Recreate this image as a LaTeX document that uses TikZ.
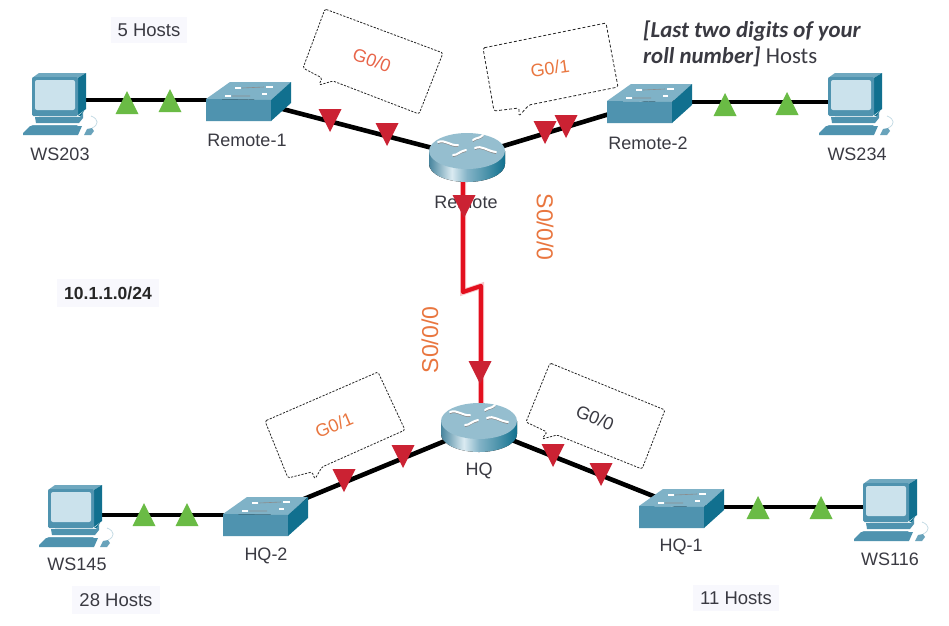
\documentclass[tikz,border=0pt]{standalone}
\usepackage{fontspec}
\setmainfont{Liberation Sans}
\newfontfamily\calfont{Carlito}
\definecolor{inktext}{HTML}{3A3A42}
\definecolor{pcfront}{HTML}{4F93AF}
\definecolor{pcside}{HTML}{11708F}
\definecolor{pctop}{HTML}{6FA8BF}
\definecolor{pcscreen}{HTML}{CBE2EC}
\definecolor{swtop}{HTML}{7FB2C7}
\definecolor{trigreen}{HTML}{6ABB45}
\definecolor{trired}{HTML}{CB2233}
\definecolor{wirered}{HTML}{E30F1E}
\definecolor{portorange}{HTML}{E9763F}
\definecolor{portred}{HTML}{E8654A}
\definecolor{paperblue}{HTML}{F8F8FD}
\pgfdeclarehorizontalshading{routerside}{100bp}{color(0bp)=(pcfront); color(25bp)=(pcfront!90!black); color(40bp)=(pcscreen!70!white); color(50bp)=(pcfront!70!white); color(65bp)=(pcside!80!white); color(75bp)=(pcside); color(100bp)=(pcside)}
\tikzset{
  devnode/.style={inner sep=0pt,minimum size=0pt},
  devlabel/.style={inner sep=0pt,text=inktext,font=\fontsize{18}{20}\selectfont},
  hostlabel/.style={devlabel,fill=paperblue,inner xsep=7pt,inner ysep=7pt},
  porttext/.style={inner sep=0pt,font=\fontsize{18}{20}\selectfont},
  serialtext/.style={inner sep=0pt,text=portorange,font=\fontsize{23}{25}\selectfont},
  wire/.style={line width=4.6pt,black},
  serialwire/.style={line width=4.2pt,wirered,line join=round,preaction={draw=wirered!25,line width=6pt}},
  callout/.style={draw=black!85,line width=0.8pt,fill=white,dash pattern=on 2.2pt off 1.4pt,rounded corners=1.5pt},
  pcicon/.pic={
    \begin{scope}[shift={(-37,-28)}]
      \fill[pctop] (9,5) -- (16,0) -- (63,0) -- (55,5) -- cycle;
      \fill[pcside] (55,5) -- (63,0) -- (63,36) -- (55,42) -- cycle;
      \fill[pcfront,rounded corners=1.5pt] (9,4) rectangle (55,43);
      \fill[pcscreen,rounded corners=2pt] (12,7) rectangle (52,37);
      \fill[pcside] (16,43) -- (58,43) -- (61,38) -- (55,43) -- cycle;
      \fill[pcfront] (12,44) -- (57,44) -- (60,40) -- (60,45) -- (56,50) -- (13,50) -- cycle;
      \fill[pcfront!85!white] (8,52) -- (55,52) -- (52,54) -- (12,54) -- cycle;
      \fill[pcfront] (0,60) -- (7,53) -- (59,53) -- (55,62) -- (0,62) -- cycle;
      \fill[pcfront!85!white] (61,62) -- (64,56) -- (69,55) -- (71,58) -- (68,62) -- cycle;
      \draw[pcfront!35!white,line width=0.7pt] (69,55) .. controls (76,52) and (76,46) .. (68,43);
    \end{scope}},
  switchicon/.pic={
    \begin{scope}[shift={(-42,-18)}]
      \fill[swtop] (24,0) -- (85,0) -- (65,18) -- (0,17) -- cycle;
      \fill[pcfront] (0,17) -- (65,18) -- (65,39) -- (0,39) -- cycle;
      \fill[pcside] (65,18) -- (85,0) -- (85,21) -- (65,39) -- cycle;
      \draw[white,line width=1.2pt] (29,6) -- (35,6) (60,5) -- (67,5) (19,14) -- (25,14) (56,12) -- (61,12);
      \draw[black!45,line width=0.6pt] (36,6) -- (58,5) (26,14) -- (44,14);
    \end{scope}},
  routericon/.pic={
    \fill[shading=routerside] (-38,-6) -- (-38,7) arc[start angle=180,end angle=0,x radius=38,y radius=18] -- (38,-6) -- cycle;
    \fill[pcfront!60!white] (0,-6) ellipse[x radius=38,y radius=18];
    \draw[black!45,line width=1pt] (-29,-13.5) .. controls (-22,-17) and (-17,-10) .. (-9,-10.5)
      (6,-15.5) .. controls (10,-19) and (12,-17) .. (16,-20.5)
      (8,-7.5) .. controls (15,-11) and (20,-5) .. (29,-3.5)
      (-14,-.5) .. controls (-9,-1) and (-9,-4) .. (-1,-5.5);
    \draw[white,line width=2pt,line cap=round] (-29,-15) .. controls (-22,-18) and (-17,-11) .. (-9,-12)
      (6,-17) .. controls (10,-20) and (12,-18) .. (16,-22)
      (8,-9) .. controls (15,-12) and (20,-6) .. (29,-5)
      (-14,-2) .. controls (-9,-2) and (-9,-5) .. (-1,-7);
  },
  greentri/.pic={\fill[trigreen] (0,0) -- (-11.5,23) -- (11.5,23) -- cycle;},
  redtri/.pic={\fill[trired] (0,0) -- (-11.5,-23) -- (11.5,-23) -- cycle;}
}
\begin{document}
\begin{tikzpicture}[x=1pt,y=-1pt]
\useasboundingbox[fill=white] (0,0) rectangle (949,625);

% device anchors
\node[devnode] (WS203) at (60,101) {};
\node[devnode] (R1) at (248,100) {};
\node[devnode] (Remote) at (467,157) {};
\node[devnode] (R2) at (649,102) {};
\node[devnode] (WS234) at (856,101) {};
\node[devnode] (WS145) at (76,513) {};
\node[devnode] (H2) at (265,515) {};
\node[devnode] (HQ) at (479,427) {};
\node[devnode] (H1) at (681,507) {};
\node[devnode] (WS116) at (891,507) {};
\coordinate (serA) at (463,292);
\coordinate (serB) at (481,286);

% labels
\node[hostlabel,font=\fontsize{18.5}{20}\selectfont] (h5) at (149,30) {5 Hosts};
\node[hostlabel,font=\fontsize{18.5}{20}\selectfont] (h28) at (116,600) {28 Hosts};
\node[hostlabel,font=\fontsize{18.5}{20}\selectfont] (h11) at (736,598) {11 Hosts};
\node[hostlabel,font=\fontsize{17.5}{20}\selectfont\bfseries,text=black!85] (net) at (108,293) {10.1.1.0/24};
\node[devlabel] (lWS203) at (60,154) {WS203};
\node[devlabel] (lR1) at (247,140) {Remote-1};
\node[devlabel] (lRemote) at (466,202) {Remote};
\node[devlabel] (lR2) at (648,143) {Remote-2};
\node[devlabel] (lWS234) at (857,154) {WS234};
\node[devlabel] (lWS145) at (77,564) {WS145};
\node[devlabel] (lH2) at (266,556) {HQ-2};
\node[devlabel] (lHQ) at (479,471) {HQ};
\node[devlabel] (lH1) at (681,547) {HQ-1};
\node[devlabel] (lWS116) at (890,559) {WS116};
\node[anchor=west,align=left,inner sep=0pt,text=inktext,font=\calfont\fontsize{22.8}{26}\selectfont] (roll) at (643,44)
  {\textbf{\textit{[Last two digits of your}}\\\textbf{\textit{roll number]}} Hosts};
\node[serialtext,rotate=-90] (s1) at (545,227) {S0/0/0};
\node[serialtext,rotate=90] (s2) at (430,340) {S0/0/0};

% call-outs
\draw[callout] (325,9) -- (443,53) -- (419,114) -- (333,81) -- (319,85) -- (322,78) -- (303,68) -- cycle;
\node[porttext,text=portred,rotate=-20] (c1) at (372,60) {G0/0};
\draw[callout,dash pattern=on 3pt off 2pt] (483,48) -- (606,23) -- (618,87) -- (529,105) -- (519,116) -- (519,108) -- (494,111) -- cycle;
\node[porttext,text=portorange,rotate=8] (c2) at (550,68) {G0/1};
\draw[callout] (265,421) -- (378,372) -- (405,430) -- (322,467) -- (315,479) -- (312,472) -- (288,478) -- cycle;
\node[porttext,text=portorange,rotate=23] (c3) at (334,425) {G0/1};
\draw[callout] (550,363) -- (665,410) -- (642,469) -- (557,435) -- (542,439) -- (547,432) -- (526,422) -- cycle;
\node[porttext,text=inktext,rotate=-22] (c4) at (595,418) {G0/0};

% connectors
\draw[wire] (WS203 |- R1) -- (R1);
\draw[wire] (R1) -- (Remote);
\draw[wire] (Remote) -- (R2);
\draw[wire] (R2) -- (WS234 |- R2);
\draw[wire] (WS145 |- H2) -- (H2);
\draw[wire] (H2) -- (HQ);
\draw[wire] (HQ) -- (H1);
\draw[wire] (H1) -- (WS116 |- H1);
\draw[serialwire] (Remote -| serA) -- (serA) -- (serB) -- (HQ -| serB);

% icons
\pic at (WS203) {pcicon};
\pic at (WS234) {pcicon};
\pic at (WS145) {pcicon};
\pic at (WS116) {pcicon};
\pic at (R1) {switchicon};
\pic at (R2) {switchicon};
\pic at (H2) {switchicon};
\pic at (H1) {switchicon};
\pic at (Remote) {routericon};
\pic at (HQ) {routericon};

% link lights
\pic at (127,91) {greentri};
\pic at (170,89) {greentri};
\pic at (725,93) {greentri};
\pic at (787,92) {greentri};
\pic at (144,503) {greentri};
\pic at (187,503) {greentri};
\pic at (758,496) {greentri};
\pic at (821,496) {greentri};
\pic at (330,132) {redtri};
\pic at (387,146) {redtri};
\pic at (545,144) {redtri};
\pic at (566,138) {redtri};
\pic at (344,492) {redtri};
\pic at (403,468) {redtri};
\pic at (553,467) {redtri};
\pic at (601,486) {redtri};
\pic at (464,218) {redtri};
\pic at (480,384) {redtri};
\end{tikzpicture}
\end{document}
